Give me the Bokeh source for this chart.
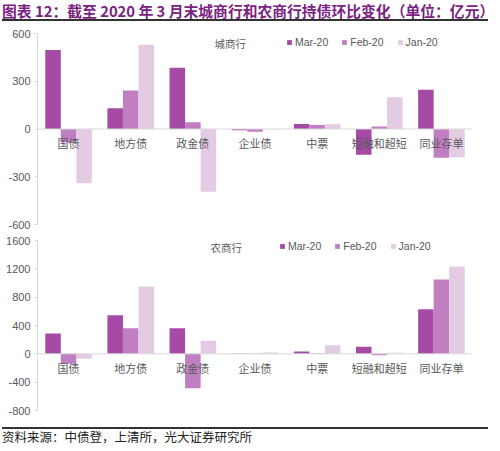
from bokeh.plotting import figure
from bokeh.models import (ColumnDataSource, FactorRange, Range1d, FixedTicker, Span,
                          Legend, LegendItem, Label, Div, CustomJSTickFormatter)
from bokeh.transform import dodge
from bokeh.layouts import column
from bokeh.core.properties import value
from bokeh.embed import file_html
from bokeh.resources import INLINE

cats = ["国债", "地方债", "政金债", "企业债", "中票", "短融和超短", "同业存单"]
series = ["Mar-20", "Feb-20", "Jan-20"]

city_mar = [496, 131, 385, -8, 32, -162, 246]
city_feb = [-85, 242, 42, -18, 25, 15, -181]
city_jan = [-341, 530, -395, -2, 30, 200, -177]

rural_mar = [287, 546, 362, -3, 33, 99, 631]
rural_feb = [-141, 362, -485, -4, 10, -19, 1049]
rural_jan = [-71, 950, 184, 19, 122, 14, 1228]

city_ticks = [-600, -300, 0, 300, 600]
rural_ticks = [-800, -400, 0, 400, 800, 1200, 1600]

colors = ["#a54ba6", "#c07fc1", "#e4cbe4"]
CJK = "Noto Sans CJK SC"
LAT = "Liberation Sans"
GREY = "#595959"


def make_panel(vals, ticks, yr, name, h, border_top, border_bottom,
               leg_x, leg_y, name_x, name_y):
    p = figure(x_range=FactorRange(factors=cats, range_padding=0),
               y_range=Range1d(yr[0], yr[1]),
               width=484, height=h, output_backend="svg", toolbar_location=None,
               min_border_left=37, min_border_right=12,
               min_border_top=border_top, min_border_bottom=border_bottom)
    p.outline_line_color = None
    p.xgrid.visible = False
    p.ygrid.visible = False
    p.xaxis.visible = False
    ax = p.yaxis[0]
    ax.ticker = FixedTicker(ticks=ticks)
    ax.formatter = CustomJSTickFormatter(code="return tick.toFixed(0);")
    ax.axis_line_color = "#d9d9d9"
    ax.major_tick_line_color = "#d9d9d9"
    ax.major_tick_out = 3
    ax.major_tick_in = 0
    ax.minor_tick_line_color = None
    ax.major_label_text_color = GREY
    ax.major_label_text_font = LAT
    ax.major_label_text_font_size = "11px"
    ax.major_label_standoff = 4

    p.add_layout(Span(location=0, dimension="width", line_color="#d9d9d9", line_width=1))

    src = ColumnDataSource(dict(cat=cats, s0=vals[0], s1=vals[1], s2=vals[2],
                                zero=[0] * len(cats)))
    rends = []
    for i, off in enumerate([-0.25, 0.0, 0.25]):
        r = p.vbar(x=dodge("cat", off, range=p.x_range), top="s%d" % i, bottom=0,
                   width=0.25, source=src, fill_color=colors[i], line_color=None)
        rends.append(r)

    p.text(x="cat", y="zero", text="cat", source=src, text_align="center",
           text_baseline="middle", y_offset=14, text_color=GREY,
           text_font=value(CJK), text_font_size="11px")

    legend = Legend(items=[LegendItem(label=s, renderers=[r]) for s, r in zip(series, rends)],
                    orientation="horizontal", location=(leg_x, leg_y),
                    glyph_width=6, glyph_height=6, label_standoff=3, spacing=13,
                    padding=0, margin=0, label_height=12,
                    label_text_font=LAT, label_text_font_size="10.5px",
                    label_text_color=GREY, background_fill_alpha=0,
                    border_line_alpha=0)
    p.add_layout(legend, "center")
    p.add_layout(Label(x=name_x, y=name_y, x_units="screen", y_units="screen",
                       text=name, text_font=CJK, text_font_size="10.5px",
                       text_color=GREY, text_baseline="middle"))
    return p


# top panel: frame height 191 (206 - 10 - 5)
p1 = make_panel([city_mar, city_feb, city_jan], city_ticks, (-600, 600), "城商行",
                206, 10, 5, 249, 176, 177, 181)
# bottom panel: frame height 170 (187 - 11 - 6)
p2 = make_panel([rural_mar, rural_feb, rural_jan], rural_ticks, (-800, 1600), "农商行",
                187, 11, 6, 242, 158, 173, 163)

title = Div(text=('<div style="margin-top:-5px;margin-left:-3px;width:486px;overflow:visible">'
                  '<div style="font-family:\'Noto Sans CJK SC\';font-weight:bold;'
                  'font-size:14.8px;color:#7b2282;white-space:nowrap;line-height:16px;height:16px">'
                  '图表 12：截至 2020 年 3 月末城商行和农商行持债环比变化（单位：亿元）</div>'
                  '<div style="height:2px;background:#333333;margin-top:0px"></div></div>'),
            width=484, height=13)
footer = Div(text=('<div style="margin-left:-3px;width:486px;overflow:visible">'
                   '<div style="height:6px"></div>'
                   '<div style="height:2px;background:#333333"></div>'
                   '<div style="font-family:\'Noto Sans CJK SC\';font-size:12.5px;color:#222;'
                   'white-space:nowrap;line-height:14px;height:14px;margin-top:1px">'
                   '资料来源：中债登，上清所，光大证券研究所</div></div>'),
             width=484, height=29)

layout = column(title, p1, p2, footer, spacing=0)
open("out.html", "w").write(file_html(layout, INLINE))
